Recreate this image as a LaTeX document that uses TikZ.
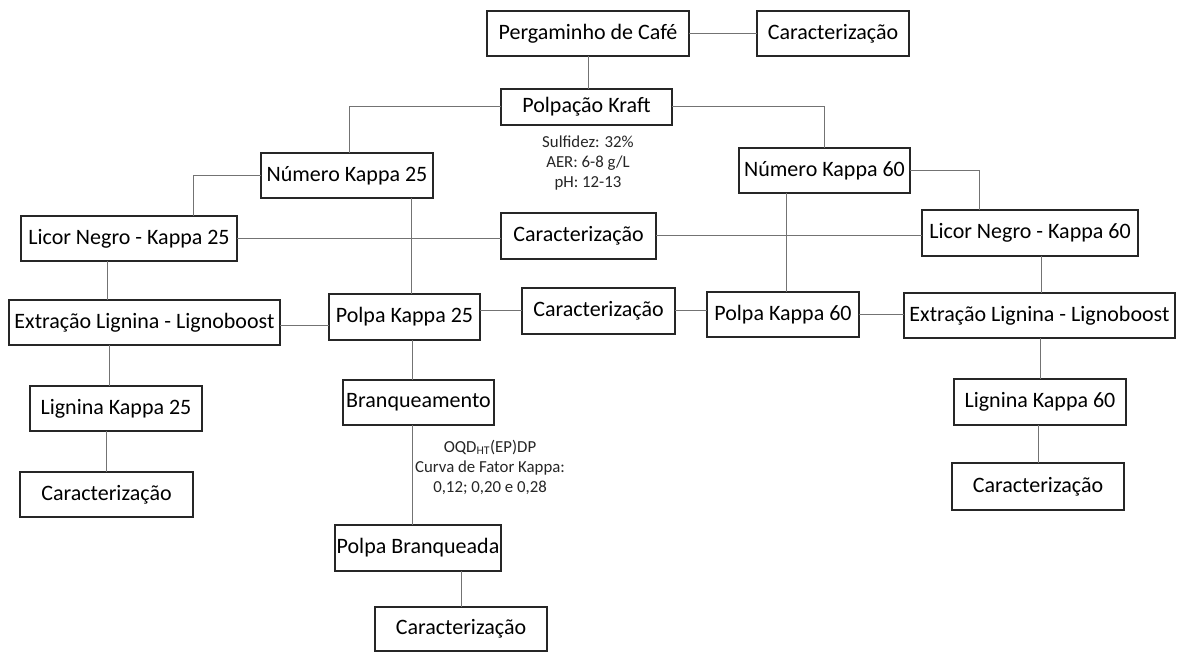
\documentclass[tikz,border=0pt]{standalone}
\usepackage{fontspec}
\setmainfont{Carlito}
\usetikzlibrary{calc}
\tikzset{
  box/.style={draw=black!85, line width=1.3pt, inner sep=0pt, outer sep=0pt, fill=white,
    font=\fontsize{22}{25}\selectfont, text=black},
  link/.style={draw=black!55, line width=1pt},
  note/.style={align=center, inner sep=0pt, font=\fontsize{16.8}{20}\selectfont, text=black!85}
}
\begin{document}
\begin{tikzpicture}[x=1pt,y=-1pt]
\useasboundingbox[fill=white] (0,0) rectangle (1184,652);
% boxes
\node[box, minimum width=202pt, minimum height=45pt] (perg)   at (588,33.5)   {Pergaminho de Café};
\node[box, minimum width=152pt, minimum height=45pt] (carTop) at (833,33.5)   {Caracterização};
\node[box, minimum width=171pt, minimum height=36pt] (kraft)  at (586.5,107)  {Polpação Kraft};
\node[box, minimum width=172pt, minimum height=45pt] (nk25)   at (347,175.5)  {Número Kappa 25};
\node[box, minimum width=171pt, minimum height=45pt] (nk60)   at (824.5,170.5){Número Kappa 60};
\node[box, minimum width=216pt, minimum height=45pt] (ln25)   at (129,238.5)  {Licor Negro - Kappa 25};
\node[box, minimum width=155pt, minimum height=46pt] (carMid) at (578.5,236)  {Caracterização};
\node[box, minimum width=216pt, minimum height=46pt] (ln60)   at (1030,233)   {Licor Negro - Kappa 60};
\node[box, minimum width=271pt, minimum height=45pt] (ext25)  at (144.5,322.5){Extração Lignina - Lignoboost};
\node[box, minimum width=151pt, minimum height=46pt] (pk25)   at (404.5,317)  {Polpa Kappa 25};
\node[box, minimum width=153pt, minimum height=46pt] (car4)   at (598.5,311)  {Caracterização};
\node[box, minimum width=152pt, minimum height=45pt] (pk60)   at (783,314.5)  {Polpa Kappa 60};
\node[box, minimum width=271pt, minimum height=45pt] (ext60)  at (1039.5,315.5){Extração Lignina - Lignoboost};
\node[box, minimum width=172pt, minimum height=45pt] (lig25)  at (116,408.5)  {Lignina Kappa 25};
\node[box, minimum width=151pt, minimum height=45pt] (brq)    at (418.5,402.5){Branqueamento};
\node[box, minimum width=172pt, minimum height=46pt] (lig60)  at (1040,402)   {Lignina Kappa 60};
\node[box, minimum width=173pt, minimum height=45pt] (carL)   at (106.5,494.5){Caracterização};
\node[box, minimum width=172pt, minimum height=47pt] (carR)   at (1038,486.5) {Caracterização};
\node[box, minimum width=166pt, minimum height=46pt] (pbr)    at (418,548)    {Polpa Branqueada};
\node[box, minimum width=172pt, minimum height=44pt] (carB)   at (461,629)    {Caracterização};
% notes
\node[note] (n1) at (588,163) {Sulfidez: 32\%\\AER: 6-8 g/L\\pH: 12-13};
\node[note] (n2) at (490,467) {OQD\textsubscript{HT}(EP)DP\\Curva de Fator Kappa:\\0,12; 0,20 e 0,28};
% connectors
\draw[link] (perg.east) -- (carTop.west);
\draw[link] (perg.south) -- (perg.south |- kraft.north);
\draw[link] (kraft.west) -| ([xshift=2pt]nk25.north);
\draw[link] (kraft.east) -| (nk60.north);
\draw[link] (nk25.west) -| ([xshift=64pt]ln25.north);
\draw[link] ([xshift=64pt]nk25.south) -- ([xshift=64pt]nk25.south |- pk25.north);
\draw[link] (ln25.east) -- (ln25.east -| carMid.west);
\draw[link] (carMid.east) -- (carMid.east -| ln60.west);
\draw[link] (nk60.east) -| ([xshift=-51pt]ln60.north);
\draw[link] ([xshift=-38pt]nk60.south) -- ([xshift=-38pt]nk60.south |- pk60.north);
\draw[link] ([xshift=11pt]ln60.south) -- ([xshift=11pt]ln60.south |- ext60.north);
\draw[link] ([xshift=-22pt]ln25.south) -- ([xshift=-22pt]ln25.south |- ext25.north);
\draw[link] ([yshift=-3pt]ext25.east) -- ([yshift=-3pt]ext25.east -| pk25.west);
\draw[link] (car4.west) -- (car4.west -| pk25.east);
\draw[link] (car4.east) -- (car4.east -| pk60.west);
\draw[link] (pk60.east) -- (pk60.east -| ext60.west);
\draw[link] ([xshift=-6.5pt]brq.north) -- ([xshift=-6.5pt]brq.north |- pk25.south);
\draw[link] ([xshift=-6.5pt]brq.south) -- ([xshift=-6.5pt]brq.south |- pbr.north);
\draw[link] (carB.north) -- (carB.north |- pbr.south);
\draw[link] ([xshift=-7pt]lig25.north) -- ([xshift=-7pt]lig25.north |- ext25.south);
\draw[link] (carL.north) -- (carL.north |- lig25.south);
\draw[link] (lig60.north) -- (lig60.north |- ext60.south);
\draw[link] (carR.north) -- (carR.north |- lig60.south);
\end{tikzpicture}
\end{document}
